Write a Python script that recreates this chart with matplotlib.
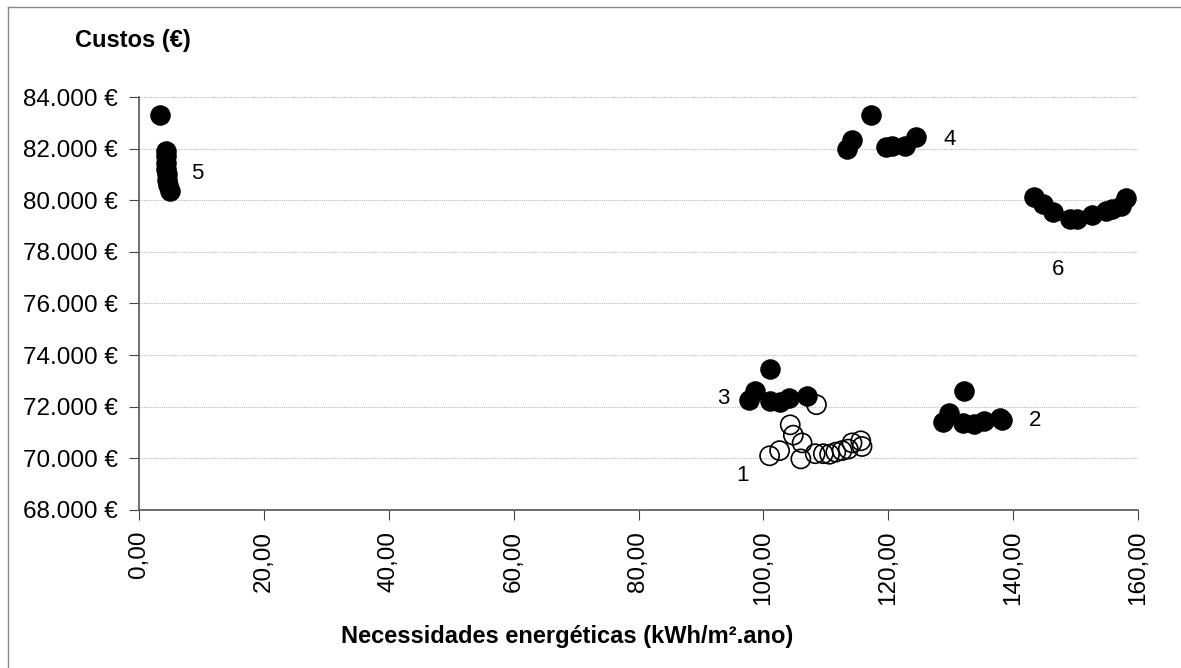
import matplotlib
matplotlib.use("Agg")
import matplotlib.pyplot as plt
from matplotlib.ticker import FuncFormatter
from matplotlib.lines import Line2D

plt.rcParams['font.family'] = ['Liberation Sans', 'DejaVu Sans']

# Series 1 (open circles)
s1_x = [101.0, 102.6, 104.3, 104.8, 106.2, 106.0, 108.5, 108.3, 109.6, 110.6, 111.6, 112.6, 113.6, 114.2, 115.6, 115.8]
s1_y = [70100, 70300, 71300, 70900, 70600, 69980, 72080, 70180, 70180, 70160, 70240, 70300, 70360, 70600, 70680, 70460]
# Series 2
s2_x = [128.7, 129.7, 132.2, 132.0, 133.8, 135.4, 137.9, 138.2]
s2_y = [71420, 71750, 72600, 71380, 71320, 71440, 71560, 71500]
# Series 3
s3_x = [97.7, 98.6, 101.1, 101.0, 102.7, 104.1, 107.0]
s3_y = [72260, 72620, 73480, 72220, 72190, 72330, 72420]
# Series 4
s4_x = [113.4, 114.2, 117.2, 119.6, 120.6, 122.7, 124.5]
s4_y = [81980, 82330, 83300, 82060, 82100, 82100, 82460]
# Series 5
s5_x = [3.4, 4.3, 4.3, 4.4, 4.4, 4.5, 4.5, 4.6, 4.9]
s5_y = [83320, 81920, 81700, 81450, 81200, 81000, 80800, 80600, 80340]
# Series 6
s6_x = [143.4, 144.8, 146.4, 149.1, 150.2, 152.6, 154.8, 155.9, 157.3, 158.1]
s6_y = [80110, 79840, 79540, 79260, 79290, 79420, 79600, 79660, 79780, 80080]

labels = ["1", "2", "3", "4", "5", "6"]
label_x = [96.7, 143.5, 93.6, 129.9, 9.4, 147.2]
label_y = [69350, 71480, 72330, 82370, 81050, 77330]

x_ticks = [0, 20, 40, 60, 80, 100, 120, 140, 160]
y_ticks = [68000, 70000, 72000, 74000, 76000, 78000, 80000, 82000, 84000]

fig = plt.figure(figsize=(11.81, 6.68), dpi=100)
ax = fig.add_axes([139/1181, 1-510/668, (1138-139)/1181, (510-97)/668])

ms = 190
for xs, ys in [(s2_x, s2_y), (s3_x, s3_y), (s4_x, s4_y), (s5_x, s5_y), (s6_x, s6_y)]:
    ax.scatter(xs, ys, s=ms, c='black', edgecolors='black', linewidths=1, zorder=3)
ax.scatter(s1_x, s1_y, s=ms, facecolors='none', edgecolors='black', linewidths=1.2, zorder=3)

for t, lx, ly in zip(labels, label_x, label_y):
    ax.text(lx, ly, t, fontsize=16, ha='center', va='center', color='black')

ax.set_xlim(0, 160)
ax.set_ylim(68000, 84000)
ax.set_xticks(x_ticks)
ax.set_yticks(y_ticks)
ax.xaxis.set_major_formatter(FuncFormatter(lambda v, p: f"{v:.2f}".replace('.', ',')))
ax.yaxis.set_major_formatter(FuncFormatter(lambda v, p: f"{int(v):,}".replace(',', '.') + " €"))
ax.tick_params(axis='x', labelrotation=90, labelsize=17.5, direction='out', length=7, color='#444444', pad=8)
ax.tick_params(axis='y', labelsize=17.5, direction='out', length=7, color='#444444', pad=8)

ax.grid(axis='y', linestyle=(0, (1, 1)), color='#bbbbbb', linewidth=0.8)
ax.set_axisbelow(True)
for sp in ['top', 'right']:
    ax.spines[sp].set_visible(False)
for sp in ['left', 'bottom']:
    ax.spines[sp].set_color('#555555')
    ax.spines[sp].set_linewidth(1.2)

fig.text(75/1181, 1-40/668, "Custos (€)", fontsize=17, fontweight='bold', ha='left', va='center')
fig.text(567/1181, 1-636/668, "Necessidades energéticas (kWh/m².ano)", fontsize=17,
         fontweight='bold', ha='center', va='center')

# figure border (left and top visible)
fig.add_artist(Line2D([8/1181, 8/1181], [0, 1-7/668], transform=fig.transFigure, color='#888888', lw=1))
fig.add_artist(Line2D([8/1181, 1], [1-7/668, 1-7/668], transform=fig.transFigure, color='#888888', lw=1))

fig.savefig("out.png", dpi=100)
